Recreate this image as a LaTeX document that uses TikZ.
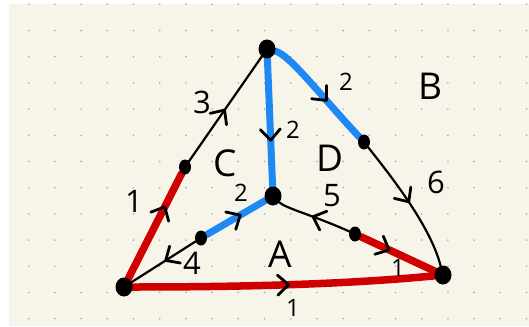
\documentclass[tikz,border=0pt]{standalone}
\usepackage{fontspec}
\setmainfont{Open Sans}
\usetikzlibrary{decorations.markings,shapes.geometric}
\definecolor{cream}{HTML}{F7F5EA}
\definecolor{penred}{HTML}{D00000}
\definecolor{penblue}{HTML}{1E88F5}
\definecolor{griddot}{HTML}{ABABA4}
\pgfdeclarelayer{bg}
\pgfdeclarelayer{edges}
\pgfsetlayers{bg,edges,main}
\tikzset{
  bigdot/.style={ellipse,fill=black,inner sep=0pt,minimum width=17pt,minimum height=19pt},
  smalldot/.style={ellipse,fill=black,inner sep=0pt,minimum width=12pt,minimum height=15pt},
  thinline/.style={draw=black,line width=2.2pt,line cap=round},
  redline/.style={draw=penred,line width=7.5pt,line cap=round},
  blueline/.style={draw=penblue,line width=7pt,line cap=round},
  midarrow/.style={postaction={decorate,decoration={markings,
     mark=at position #1 with {\draw[black,line width=2.8pt,line cap=round,line join=round]
        (-6pt,-10pt) -- (5pt,0pt) -- (-6pt,10pt);}}}},
  num/.style={font=\fontsize{31}{31}\selectfont,inner sep=0pt},
  smallnum/.style={font=\fontsize{24}{24}\selectfont,inner sep=0pt},
  letter/.style={font=\fontsize{37}{37}\selectfont,inner sep=0pt}
}
\begin{document}
\begin{tikzpicture}[x=1pt,y=-1pt]
\useasboundingbox (0,0) rectangle (529,326);
\begin{pgfonlayer}{bg}
\fill[white] (0,0) rectangle (529,326);
\fill[cream] (9,4) rectangle (529,326);
\foreach \i in {0,...,19}
  \foreach \j in {0,...,12}
    \fill[griddot] ({28.7+26.2*\i},{4.3+26.2*\j}) circle[radius=0.9pt];
\end{pgfonlayer}

\node[bigdot] (T) at (267,49) {};
\node[bigdot] (L) at (124,287) {};
\node[bigdot] (R) at (443,275) {};
\node[bigdot] (M) at (273,196) {};
\node[smalldot] (P1) at (185,167) {};
\node[smalldot] (P2) at (364,142) {};
\node[smalldot] (P3) at (201,238) {};
\node[smalldot] (P4) at (355,234) {};

\begin{pgfonlayer}{edges}
\draw[thinline, midarrow=0.45] (P1) -- (T);
\draw[redline, midarrow=0.64] (L) -- (P1);
\draw[blueline, midarrow=0.6] (T) -- (M);
\draw[blueline, midarrow=0.55] (T) .. controls (290,55) and (320,95) .. (P2);
\draw[thinline, midarrow=0.45] (P2) .. controls (390,175) and (430,225) .. (R);
\draw[blueline, midarrow=0.5] (P3) -- (M);
\draw[thinline, midarrow=0.4] (P3) -- (L);
\draw[thinline, midarrow=0.45] (P4) .. controls (315,216) and (285,208) .. (M);
\draw[redline, midarrow=0.32] (P4) -- (R);
\draw[redline, midarrow=0.5] (L) .. controls (230,287) and (340,285) .. (R);
\end{pgfonlayer}

\node[num] (n3) at (202,102) {3};
\node[num] (n1a) at (134,201) {1};
\node[smallnum] (n2a) at (293,130) {2};
\node[smallnum] (n2b) at (346,82) {2};
\node[num] (n6) at (436,182) {6};
\node[smallnum] (n2c) at (241,193) {2};
\node[num] (n5) at (332,196) {5};
\node[num] (n4) at (192,263) {4};
\node[smallnum] (n1b) at (398,268) {1};
\node[smallnum] (n1c) at (293,308) {1};
\node[letter] (lB) at (430,86) {B};
\node[letter] (lC) at (225,163) {C};
\node[letter] (lD) at (330,158) {D};
\node[letter] (lA) at (280,254) {A};
\end{tikzpicture}
\end{document}
